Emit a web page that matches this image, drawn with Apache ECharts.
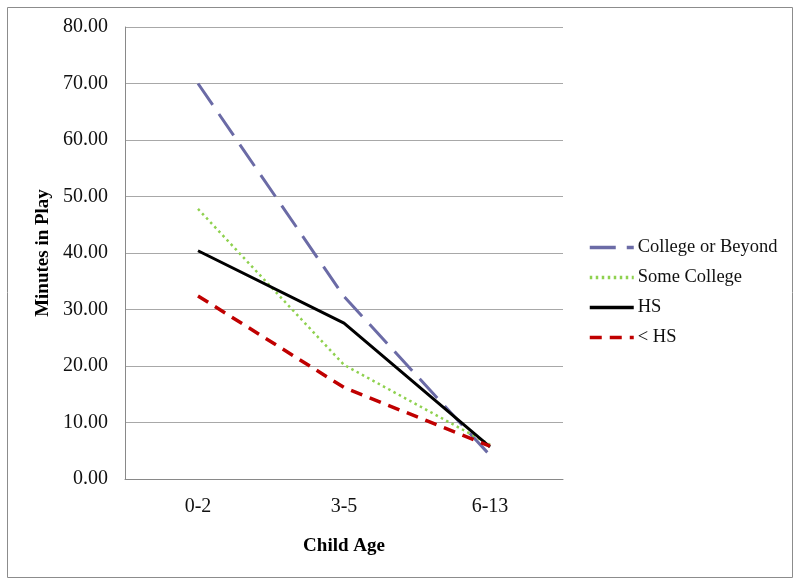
<!DOCTYPE html>
<html>
<head>
<meta charset="utf-8">
<script src="https://cdn.jsdelivr.net/npm/echarts@6/dist/echarts.min.js"></script>
<style>html,body{margin:0;padding:0;background:#fff;}#c{width:800px;height:584px;}</style>
</head>
<body>
<div id="c"></div>
<script>
const categories = ['0-2', '3-5', '6-13'];
const collegeOrBeyond = [70.0, 32.3, 4.2];
const someCollege = [47.8, 20.2, 6.1];
const hs = [40.4, 27.6, 5.7];
const lessThanHs = [32.4, 16.2, 5.8];
const yTicks = [0, 10, 20, 30, 40, 50, 60, 70, 80];

const FONT = '"Liberation Serif", "Times New Roman", serif';
const chart = echarts.init(document.getElementById('c'), null, {renderer: 'canvas'});

function mk(name, data, color, width, type, cap) {
  return {
    name: name, type: 'line', data: data, symbol: 'none', showSymbol: false,
    lineStyle: {color: color, width: width, type: type, cap: cap || 'butt'},
    itemStyle: {color: color},
    animation: false
  };
}

chart.setOption({
  animation: false,
  backgroundColor: '#fff',
  grid: {left: 125, top: 27, width: 438, height: 452, containLabel: false},
  xAxis: {
    type: 'category', data: categories, boundaryGap: true,
    name: 'Child Age', nameLocation: 'middle', nameGap: 58,
    nameTextStyle: {fontFamily: FONT, fontWeight: 'bold', fontSize: 19, color: '#000'},
    axisLine: {lineStyle: {color: '#898989', width: 1}},
    axisTick: {show: false},
    axisLabel: {fontFamily: FONT, fontSize: 20, color: '#111', margin: 18}
  },
  yAxis: {
    type: 'value', min: yTicks[0], max: yTicks[yTicks.length - 1], interval: 10,
    name: 'Minutes in Play', nameLocation: 'middle', nameGap: 71, nameRotate: 90,
    nameTextStyle: {fontFamily: FONT, fontWeight: 'bold', fontSize: 19, color: '#000'},
    axisLine: {show: true, lineStyle: {color: '#898989', width: 1}},
    axisTick: {show: false},
    splitLine: {lineStyle: {color: '#a8a8a8', width: 1}},
    axisLabel: {fontFamily: FONT, fontSize: 20, color: '#111', margin: 17,
      formatter: v => v.toFixed(2)}
  },
  legend: {
    orient: 'vertical', left: 588, top: 238, padding: 0,
    itemWidth: 44, itemHeight: 14, itemGap: 11,
    itemStyle: {opacity: 0},
    lineStyle: {width: 3.5},
    textStyle: {fontFamily: FONT, fontSize: 18.5, color: '#111', padding: [0, 0, 0, -1]},
    data: ['College or Beyond', 'Some College', 'HS', '< HS']
  },
  series: [
    mk('College or Beyond', collegeOrBeyond, '#6b6ba6', 3, [26, 11]),
    mk('Some College', someCollege, '#8fd14f', 2.5, [2.5, 3.5]),
    mk('HS', hs, '#000000', 3, 'solid'),
    mk('< HS', lessThanHs, '#c00000', 3.5, [12, 8])
  ],
  graphic: [{
    type: 'rect', silent: true,
    shape: {x: 7.5, y: 7.5, width: 785, height: 570},
    style: {fill: 'none', stroke: '#8c8c8c', lineWidth: 1}
  }]
});
</script>
</body>
</html>
